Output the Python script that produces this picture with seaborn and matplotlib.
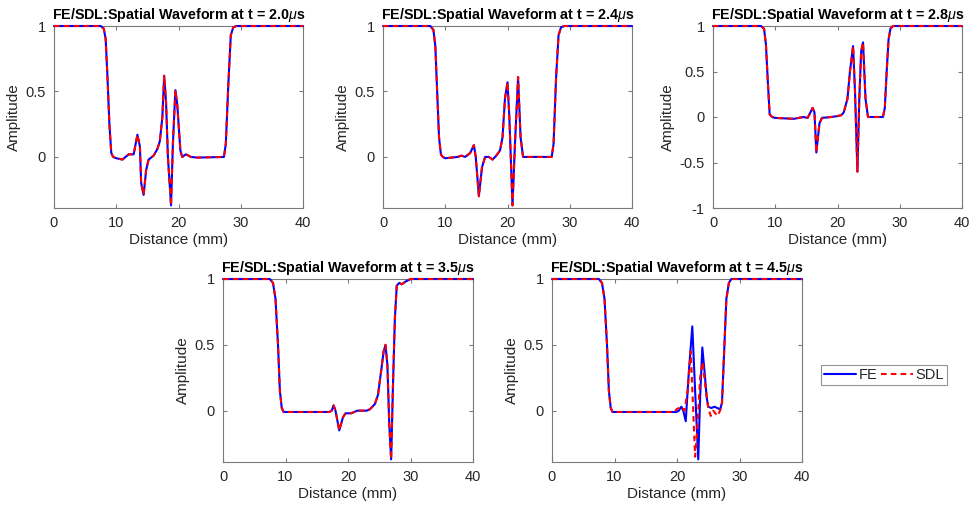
import numpy as np
import pandas as pd
import matplotlib
matplotlib.use("Agg")
import matplotlib.pyplot as plt
import seaborn as sns
from matplotlib.lines import Line2D

# ---------------- data ----------------
times = ["2.0", "2.4", "2.8", "3.5", "4.5"]

x1 = [0, 7.5, 8.0, 8.3, 8.6, 8.9, 9.2, 9.5, 10.0, 11.0, 12.0, 12.8, 13.4, 13.8, 14.0, 14.4,
      14.8, 15.2, 16.0, 16.6, 17.0, 17.4, 17.7, 18.0, 18.3, 18.8, 19.1, 19.5, 19.8, 20.3,
      20.6, 21.2, 22.0, 23.0, 27.3, 27.6, 28.0, 28.4, 28.8, 29.3, 40]
y1 = [1, 1, 0.98, 0.9, 0.6, 0.25, 0.03, 0.0, -0.01, -0.02, 0.02, 0.02, 0.17, 0.08, -0.2, -0.29,
      -0.1, -0.02, 0.01, 0.06, 0.12, 0.3, 0.62, 0.42, 0.0, -0.37, 0.1, 0.51, 0.4, 0.05,
      0.0, 0.02, 0.0, -0.005, 0.0, 0.1, 0.55, 0.93, 0.99, 1, 1]

x2 = [0, 7.6, 8.1, 8.4, 8.7, 9.0, 9.3, 9.6, 10.0, 12.0, 12.6, 13.2, 14.0, 14.6, 14.9, 15.4,
      15.9, 16.4, 17.0, 17.6, 18.2, 18.8, 19.2, 19.6, 20.0, 20.3, 20.8, 21.2, 21.7, 22.1,
      22.5, 23.0, 27.1, 27.4, 27.8, 28.2, 28.6, 29.1, 40]
y2 = [1, 1, 0.97, 0.85, 0.5, 0.15, 0.02, 0.0, -0.01, 0.0, 0.01, 0.0, 0.03, 0.09, 0.0, -0.30,
      -0.08, 0.0, 0.0, -0.02, 0.01, 0.05, 0.15, 0.45, 0.57, 0.3, -0.37, 0.1, 0.61, 0.15,
      0.0, 0.0, 0.0, 0.1, 0.6, 0.93, 0.99, 1, 1]

x3 = [0, 7.7, 8.2, 8.5, 8.8, 9.1, 9.5, 10.0, 13.0, 14.5, 15.2, 15.5, 16.0, 16.3, 16.6, 17.1,
      17.5, 19.0, 20.0, 20.6, 21.0, 21.6, 22.0, 22.5, 22.8, 23.2, 23.5, 23.8, 24.1, 24.5,
      24.9, 27.3, 27.6, 27.9, 28.2, 28.5, 28.9, 40]
y3 = [1, 1, 0.97, 0.8, 0.4, 0.03, 0.0, -0.01, -0.02, 0.0, -0.01, 0.03, 0.1, 0.05, -0.39, -0.07,
      -0.01, 0.0, 0.01, 0.02, 0.05, 0.2, 0.5, 0.78, 0.3, -0.6, 0.2, 0.72, 0.82, 0.2,
      0.0, 0.0, 0.1, 0.5, 0.85, 0.97, 1.0, 1]

x4 = [0, 7.5, 8.0, 8.4, 8.8, 9.1, 9.4, 9.7, 10, 17.0, 17.4, 17.7, 18.0, 18.6, 19.2, 19.6,
      20.5, 21.5, 23.0, 23.5, 24.3, 24.8, 25.3, 25.7, 26.0, 26.3, 26.6, 26.9, 27.2, 27.5,
      27.8, 28.2, 28.6, 29.2, 30.0, 40]
y4 = [1, 1, 0.97, 0.85, 0.5, 0.15, 0.02, -0.01, -0.01, -0.01, 0.0, 0.04, 0.0, -0.15, -0.05, -0.02,
      -0.02, 0.0, 0.0, 0.01, 0.05, 0.12, 0.3, 0.45, 0.5, 0.35, -0.1, -0.37, 0.2, 0.7,
      0.95, 0.97, 0.96, 0.98, 1.0, 1]

x5 = [0, 7.5, 8.0, 8.4, 8.8, 9.1, 9.4, 9.7, 10, 19.9, 20.3, 20.7, 21.0, 21.4, 21.9, 22.45,
      22.9, 23.4, 23.7, 24.05, 24.4, 24.75, 25.0, 25.5, 26.0, 26.9, 27.2, 27.5, 27.9, 28.3,
      28.7, 29.2, 40]
y5 = [1, 1, 0.97, 0.85, 0.5, 0.15, 0.02, -0.01, -0.01, -0.01, 0.0, 0.03, 0.0, -0.08, 0.3, 0.64,
      0.15, -0.37, 0.1, 0.48, 0.3, 0.1, 0.03, 0.02, 0.03, 0.01, 0.06, 0.4, 0.85, 0.97,
      1.0, 1, 1]

# SDL coincides with FE in panels 1-4; differs in panel 5
xs5 = [0, 7.5, 8.0, 8.4, 8.8, 9.1, 9.4, 9.7, 10, 19.6, 19.9, 20.7, 21.2, 21.7, 22.2, 22.9,
       23.3, 23.7, 24.1, 24.5, 25.0, 25.4, 25.8, 26.45, 26.9, 27.2, 27.5, 27.9, 28.3, 28.7,
       29.2, 40]
ys5 = [1, 1, 0.97, 0.85, 0.5, 0.15, 0.02, -0.01, -0.01, -0.01, 0.01, 0.03, 0.0, 0.15, 0.45, -0.35,
       -0.1, 0.25, 0.37, 0.2, 0.02, -0.04, 0.0, -0.04, 0.0, 0.06, 0.4, 0.85, 0.97, 1.0,
       1, 1]

fe_x = [x1, x2, x3, x4, x5]
fe_y = [y1, y2, y3, y4, y5]
sdl_x = [x1, x2, x3, x4, xs5]
sdl_y = [y1, y2, y3, y4, ys5]

y_lower = [-0.39, -0.39, -1.0, -0.39, -0.39]
yticks_std = [0, 0.5, 1]
yticks_p3 = [-1, -0.5, 0, 0.5, 1]
xticks = [0, 10, 20, 30, 40]

# ---------------- style ----------------
sns.set_theme(style="white")
plt.rcParams["font.family"] = ["Liberation Sans", "DejaVu Sans"]
plt.rcParams["mathtext.fontset"] = "custom"
plt.rcParams["mathtext.it"] = "Liberation Sans:italic"
plt.rcParams["mathtext.rm"] = "Liberation Sans"
plt.rcParams["axes.unicode_minus"] = False

TXT = "#262626"
EDGE = "#7a7a7a"
DASH = (0, (2.7, 2.0))

fig = plt.figure(figsize=(9.77, 5.09), dpi=100)
W, H = 977, 509
boxes = [(54, 303, 26, 208), (383, 632, 26, 208), (713, 962, 26, 208),
         (223, 473, 279, 462), (552, 802, 279, 462)]

for i, (l, r, t, b) in enumerate(boxes):
    ax = fig.add_axes([l / W, 1 - b / H, (r - l) / W, (b - t) / H])
    df_fe = pd.DataFrame({"Distance": fe_x[i], "Amplitude": fe_y[i]})
    df_sdl = pd.DataFrame({"Distance": sdl_x[i], "Amplitude": sdl_y[i]})
    sns.lineplot(data=df_fe, x="Distance", y="Amplitude", ax=ax, color="#0000ff",
                 linewidth=1.5, sort=False, estimator=None)
    sns.lineplot(data=df_sdl, x="Distance", y="Amplitude", ax=ax, color="#ff0000",
                 linewidth=1.5, sort=False, estimator=None, linestyle=DASH)
    for ln in ax.get_lines():
        ln.set_clip_on(False)
        ln.set_zorder(3)
    ax.set_xlim(0, 40)
    ax.set_ylim(y_lower[i], 1)
    ax.set_xticks(xticks)
    yt = yticks_p3 if i == 2 else yticks_std
    ax.set_yticks(yt)
    ax.set_yticklabels([("%g" % v) for v in yt])
    ax.tick_params(direction="in", length=3, width=0.8, colors=TXT, labelsize=10.5,
                   top=True, right=True, bottom=True, left=True, pad=6)
    for s in ax.spines.values():
        s.set_color(EDGE)
        s.set_linewidth(0.8)
        s.set_zorder(2)
    ax.tick_params(axis="both", color=EDGE)
    ax.set_xlabel("Distance (mm)", fontsize=11, color=TXT, labelpad=2)
    ax.set_ylabel("Amplitude", fontsize=11, color=TXT, labelpad=3)
    ax.set_title("FE/SDL:Spatial Waveform at t = %s$\\mu$s" % times[i],
                 fontsize=10.3, fontweight="bold", color="black", pad=5)

handles = [Line2D([], [], color="#0000ff", lw=1.5),
           Line2D([], [], color="#ff0000", lw=1.5, linestyle=DASH)]
leg = fig.legend(handles, ["FE", "SDL"], ncol=2, loc="center",
                 bbox_to_anchor=(884 / W, 1 - 375 / H), frameon=True, fancybox=False,
                 fontsize=10.5, handlelength=2.2, handletextpad=0.15, columnspacing=0.25,
                 borderpad=0.2, borderaxespad=0)
leg.get_frame().set_edgecolor(EDGE)
leg.get_frame().set_linewidth(0.8)
for txt in leg.get_texts():
    txt.set_color(TXT)

fig.savefig("out.png", dpi=100)
